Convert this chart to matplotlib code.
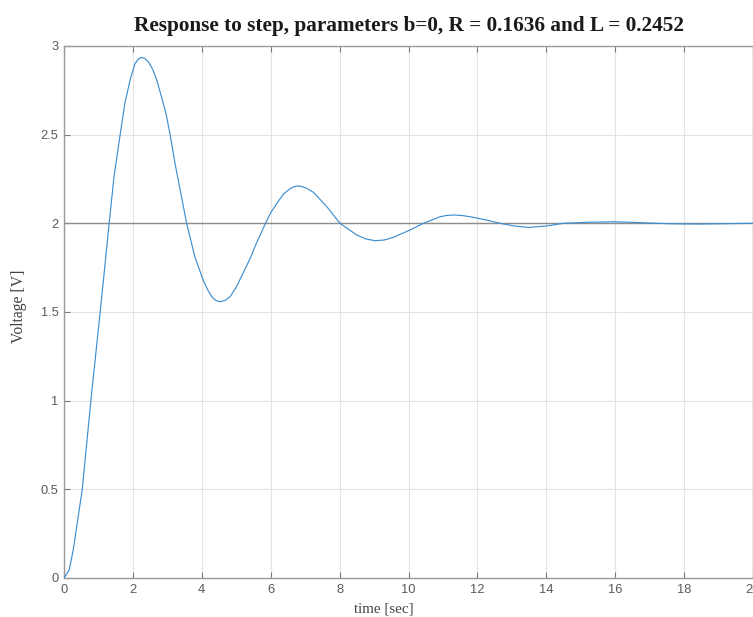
import matplotlib
matplotlib.use("Agg")
import matplotlib.pyplot as plt

t = [0, 0.15, 0.27, 0.53, 0.78, 0.996, 1.14, 1.31, 1.45, 1.63, 1.77, 1.92,
     2.06, 2.15, 2.25, 2.35, 2.45, 2.57, 2.69, 2.82, 2.96, 3.09, 3.22, 3.39,
     3.56, 3.80, 4.04, 4.17, 4.29, 4.41, 4.53, 4.67, 4.82, 5.0, 5.20, 5.40,
     5.59, 5.85, 6.0, 6.17, 6.37, 6.56, 6.67, 6.78, 6.90, 7.04, 7.24, 7.63, 8.01,
     8.50, 8.76, 9.03, 9.30, 9.56, 10.04, 10.43, 10.91, 11.13, 11.35, 11.6,
     11.88, 12.25, 12.66, 13.1, 13.5, 14.0, 14.5, 15.2, 15.94, 16.6, 17.2,
     17.8, 18.46, 19.2, 20.0]
v = [0, 0.045, 0.16, 0.5, 1.0, 1.40, 1.67, 2.0, 2.26, 2.50, 2.68, 2.81,
     2.90, 2.925, 2.936, 2.929, 2.91, 2.87, 2.81, 2.72, 2.62, 2.49, 2.34, 2.17,
     2.0, 1.81, 1.68, 1.625, 1.586, 1.565, 1.558, 1.565, 1.586, 1.64, 1.72, 1.80,
     1.89, 2.0, 2.06, 2.11, 2.165, 2.195, 2.206, 2.211, 2.208, 2.198, 2.175, 2.094, 2.0,
     1.934, 1.912, 1.902, 1.906, 1.921, 1.962, 2.0, 2.037, 2.045, 2.047, 2.043,
     2.034, 2.019, 2.0, 1.984, 1.977, 1.985, 2.0, 2.006, 2.009, 2.005, 2.0,
     1.997, 1.996, 1.998, 2.0]
referencia = 2.0
xticks = list(range(0, 21, 2))
yticks = [0, 0.5, 1, 1.5, 2, 2.5, 3]

fig = plt.figure(figsize=(7.53, 6.17), dpi=100)
ax = fig.add_axes([64 / 753, 39 / 617, 689 / 753, 532 / 617])

ax.plot(t, v, color='#3d8fd1', lw=0.85, zorder=3)
ax.axhline(referencia, color='#8c8c8c', lw=1.0, zorder=2)

ax.set_xlim(0, 20)
ax.set_ylim(0, 3)
ax.set_xticks(xticks)
ax.set_yticks(yticks)
ax.set_yticklabels(['0', '0.5', '1', '1.5', '2', '2.5', '3'])
ax.grid(True, color='#e3e3e3', lw=0.8, zorder=0)

for s in ax.spines.values():
    s.set_color('#9a9a9a')
    s.set_linewidth(1.0)
ax.tick_params(direction='in', length=4, color='#7a7a7a', labelsize=9.3,
               labelcolor='#5a5a5a', top=True, right=False, pad=4)
for lbl in ax.get_xticklabels() + ax.get_yticklabels():
    lbl.set_family('Liberation Sans')

ax.set_title('Response to step, parameters b=0, R = 0.1636 and L = 0.2452',
             family='Liberation Serif', fontweight='bold', fontsize=15.3,
             color='#1a1a1a', pad=11)
ax.set_xlabel('time [sec]', family='Liberation Serif', fontsize=10.8, color='#444444')
ax.set_ylabel('Voltage [V]', family='Liberation Serif', fontsize=11.3, color='#444444')
ax.xaxis.set_label_coords((384 - 64) / 689, -0.046)
ax.yaxis.set_label_coords(-(64 - 27) / 689, 0.51)

fig.savefig('out.png', dpi=100)
